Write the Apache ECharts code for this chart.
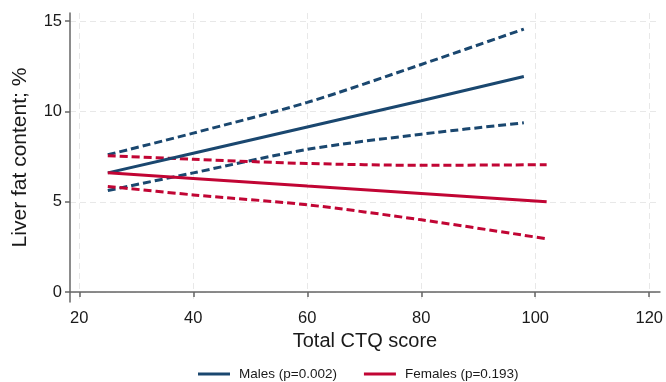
<!DOCTYPE html>
<html>
<head>
<meta charset="utf-8">
<script src="https://cdn.jsdelivr.net/npm/echarts@6/dist/echarts.min.js"></script>
<style>html,body{margin:0;padding:0;background:#fff}#c{width:666px;height:382px}</style>
</head>
<body>
<div id="c"></div>
<script>
// Data
const xTicks = [20, 40, 60, 80, 100, 120];
const yTicks = [0, 5, 10, 15];

const maleX = [25, 40, 60, 80, 98];
const maleFit = [6.6, 7.69, 9.14, 10.59, 11.93];
const maleUpper = [7.6, 8.8, 10.5, 12.6, 14.56];
const maleLower = [5.62, 6.6, 7.9, 8.74, 9.37];

const femaleX = [25, 40, 60, 80, 102];
const femaleFit = [6.6, 6.29, 5.87, 5.46, 5.0];
const femaleUpper = [7.55, 7.35, 7.12, 7.02, 7.05];
const femaleLower = [5.85, 5.38, 4.83, 4.0, 2.95];

const maleName = 'Males (p=0.002)';
const femaleName = 'Females (p=0.193)';
const blue = '#1a476f';
const red = '#c10534';

function pts(xs, ys) { return xs.map((x, i) => [x, ys[i]]); }

const font = 'Liberation Sans, Arial, sans-serif';
const chart = echarts.init(document.getElementById('c'), null, {renderer: 'canvas'});

function ci(name, xs, ys, color) {
  return {
    name: name, type: 'line', data: pts(xs, ys), symbol: 'none', smooth: 0.3,
    lineStyle: {color: color, width: 3, type: [8, 4]}, z: 2, silent: true
  };
}

chart.setOption({
  animation: false,
  backgroundColor: '#fff',
  grid: {left: 70, right: 6, top: 13, bottom: 80, containLabel: false},
  legend: {
    data: [maleName, femaleName],
    left: 198, top: 367, padding: 0,
    icon: 'rect', itemWidth: 32, itemHeight: 3, itemGap: 27,
    textStyle: {fontFamily: font, fontSize: 13.5, color: '#1a1a1a', padding: [0, 0, 0, 4]}
  },
  xAxis: {
    type: 'value', min: 18.37, max: 121.88,
    name: 'Total CTQ score', nameLocation: 'middle', nameGap: 29,
    nameTextStyle: {fontFamily: font, fontSize: 20, color: '#1a1a1a'},
    axisLine: {show: true, lineStyle: {color: '#666', width: 1.5}},
    axisTick: {show: true, length: 5, customValues: xTicks, lineStyle: {color: '#666', width: 1.5}},
    axisLabel: {customValues: xTicks, margin: 8, fontFamily: font, fontSize: 16.5, color: '#1a1a1a'},
    splitLine: {show: true, lineStyle: {color: '#e8e8e8', width: 1, type: [6, 4]}}
  },
  yAxis: {
    type: 'value', min: -0.55, max: 15.45,
    name: 'Liver fat content; %', nameLocation: 'middle', nameGap: 39,
    nameTextStyle: {fontFamily: font, fontSize: 21, color: '#1a1a1a'},
    axisLine: {show: true, lineStyle: {color: '#666', width: 1.5}},
    axisTick: {show: true, length: 5, customValues: yTicks, lineStyle: {color: '#666', width: 1.5}},
    axisLabel: {customValues: yTicks, margin: 8, fontFamily: font, fontSize: 16.5, color: '#1a1a1a'},
    splitLine: {show: true, lineStyle: {color: '#e8e8e8', width: 1, type: [6, 4]}}
  },
  series: [
    ci('Males upper CI', maleX, maleUpper, blue),
    ci('Males lower CI', maleX, maleLower, blue),
    ci('Females upper CI', femaleX, femaleUpper, red),
    ci('Females lower CI', femaleX, femaleLower, red),
    {name: maleName, type: 'line', data: pts(maleX, maleFit), symbol: 'none',
     lineStyle: {color: blue, width: 3}, itemStyle: {color: blue}, z: 3},
    {name: femaleName, type: 'line', data: pts(femaleX, femaleFit), symbol: 'none',
     lineStyle: {color: red, width: 3}, itemStyle: {color: red}, z: 3}
  ]
});
</script>
</body>
</html>
